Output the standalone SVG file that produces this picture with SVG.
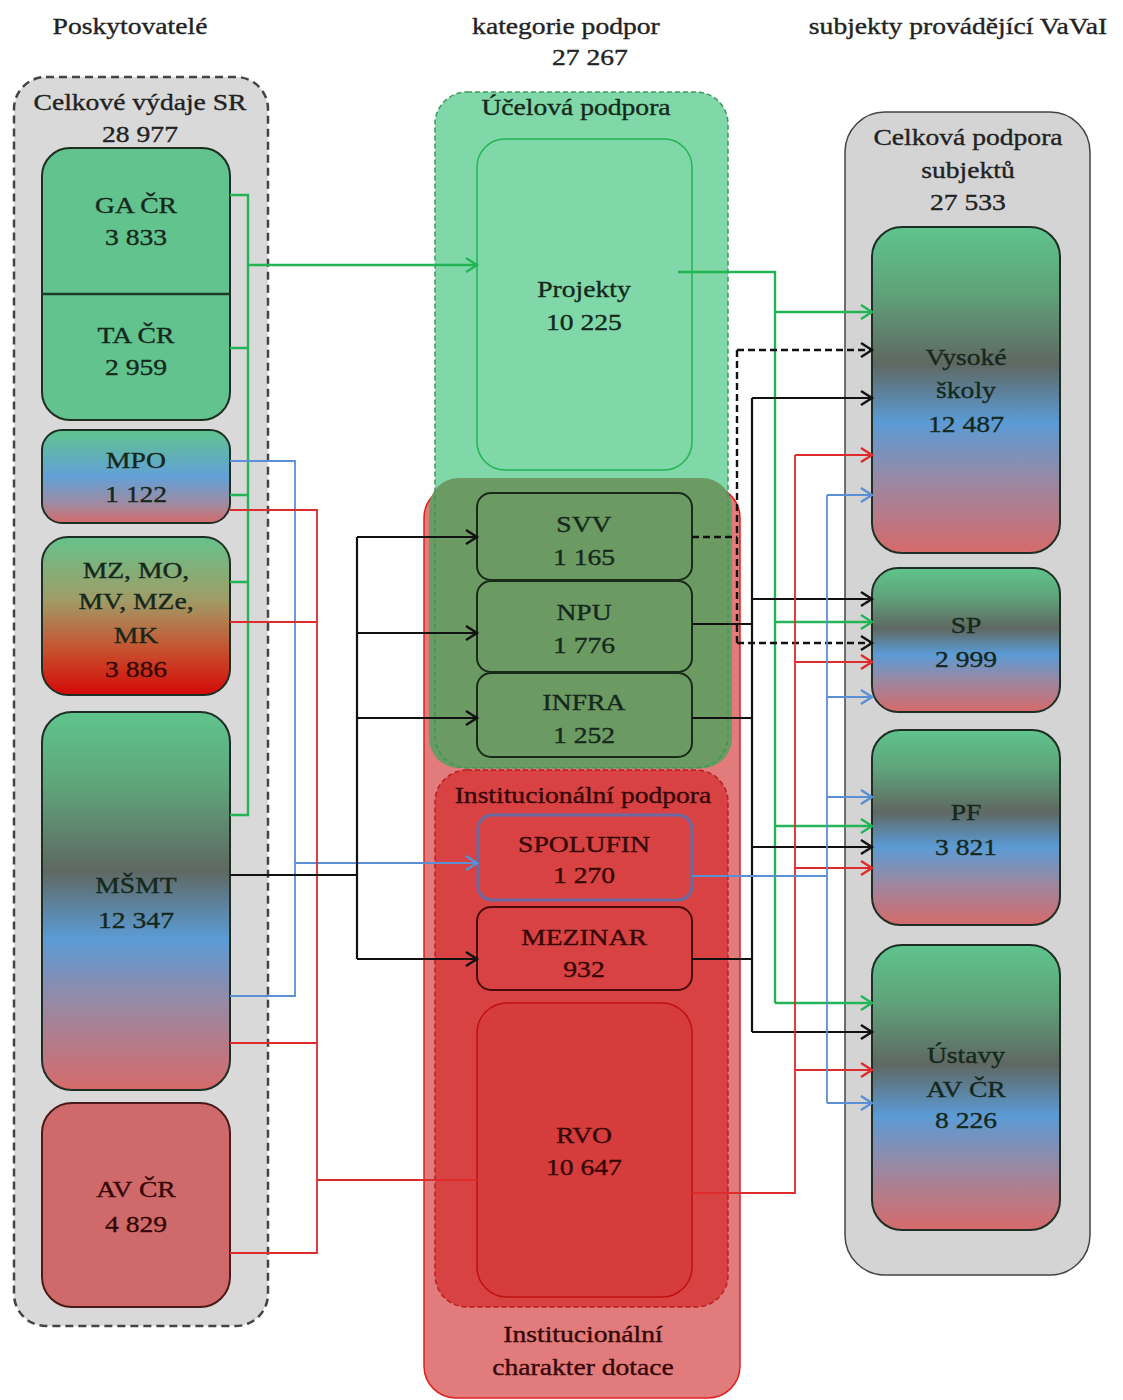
<svg xmlns="http://www.w3.org/2000/svg" width="1123" height="1400" viewBox="0 0 1123 1400">
<defs>
<style>
text{font-family:"Liberation Serif","Times New Roman",serif;font-size:23px;text-anchor:middle;transform-box:fill-box;transform-origin:center;transform:scaleX(1.2);stroke-width:0.35px}
.hd{fill:#222;stroke:#222}
.dk{fill:#15281c;stroke:#15281c}
.rd{fill:#350606;stroke:#350606}
.gr{fill:none;stroke:#22b455;stroke-width:2.4}
.bl{fill:none;stroke:#5b8fd4;stroke-width:1.8}
.re{fill:none;stroke:#de2b2b;stroke-width:1.8}
.bk{fill:none;stroke:#111;stroke-width:2.2}
.bkd{fill:none;stroke:#111;stroke-width:2.4;stroke-dasharray:7,4}
.box{stroke:#1e2e24;stroke-width:2}
</style>
<linearGradient id="gMulti" x1="0" y1="0" x2="0" y2="1">
<stop offset="0" stop-color="#5fc48d"/>
<stop offset="0.2" stop-color="#5fa37a"/>
<stop offset="0.42" stop-color="#5f6862"/>
<stop offset="0.6" stop-color="#5b9bd5"/>
<stop offset="0.78" stop-color="#9a88a2"/>
<stop offset="1" stop-color="#d66a6a"/>
</linearGradient>
<linearGradient id="gMPO" x1="0" y1="0" x2="0" y2="1">
<stop offset="0" stop-color="#5fc48d"/>
<stop offset="0.5" stop-color="#62a0d8"/>
<stop offset="0.8" stop-color="#a08aa0"/>
<stop offset="1" stop-color="#d66a6a"/>
</linearGradient>
<linearGradient id="gMZ" x1="0" y1="0" x2="0" y2="1">
<stop offset="0" stop-color="#66c28c"/>
<stop offset="0.4" stop-color="#a09c66"/>
<stop offset="0.72" stop-color="#c8502e"/>
<stop offset="1" stop-color="#d40808"/>
</linearGradient>
<marker id="aG" markerUnits="userSpaceOnUse" markerWidth="16" markerHeight="18" refX="13" refY="9" orient="auto"><path d="M2,2 L13,9 L2,16" fill="none" stroke="#22b455" stroke-width="2.4"/></marker>
<marker id="aK" markerUnits="userSpaceOnUse" markerWidth="16" markerHeight="18" refX="13" refY="9" orient="auto"><path d="M2,2 L13,9 L2,16" fill="none" stroke="#111" stroke-width="2.4"/></marker>
<marker id="aR" markerUnits="userSpaceOnUse" markerWidth="16" markerHeight="18" refX="13" refY="9" orient="auto"><path d="M2,2 L13,9 L2,16" fill="none" stroke="#de2b2b" stroke-width="2.4"/></marker>
<marker id="aB" markerUnits="userSpaceOnUse" markerWidth="16" markerHeight="18" refX="13" refY="9" orient="auto"><path d="M2,2 L13,9 L2,16" fill="none" stroke="#5b8fd4" stroke-width="2.4"/></marker>
</defs>
<rect width="1123" height="1400" fill="#fff"/>

<!-- headers -->
<text class="hd" x="130" y="34">Poskytovatelé</text>
<text class="hd" x="566" y="34">kategorie podpor</text>
<text class="hd" x="590" y="65">27 267</text>
<text class="hd" x="958" y="34">subjekty provádějící VaVaI</text>

<!-- left container -->
<g id="poskytovatele">
<rect x="14" y="77" width="254" height="1249" rx="32" fill="#d9d9d9" stroke="#444" stroke-width="2.5" stroke-dasharray="8,5"/>
<text class="hd" x="140" y="110">Celkové výdaje SR</text>
<text class="hd" x="140" y="142">28 977</text>
</g>
<g id="gacr-tacr">
<rect class="box" x="42" y="148" width="188" height="272" rx="28" fill="#62c38e"/>
<line x1="42" y1="294" x2="230" y2="294" stroke="#1e3a2a" stroke-width="2.5"/>
<text class="dk" x="136" y="213">GA ČR</text>
<text class="dk" x="136" y="245">3 833</text>
<text class="dk" x="136" y="343">TA ČR</text>
<text class="dk" x="136" y="375">2 959</text>
</g>
<g id="mpo">
<rect class="box" x="42" y="430" width="188" height="93" rx="20" fill="url(#gMPO)"/>
<text class="dk" x="136" y="468">MPO</text>
<text class="dk" x="136" y="502">1 122</text>
</g>
<g id="mz">
<rect class="box" x="42" y="537" width="188" height="158" rx="26" fill="url(#gMZ)"/>
<text class="dk" x="136" y="578">MZ, MO,</text>
<text class="dk" x="136" y="609">MV, MZe,</text>
<text class="dk" x="136" y="643">MK</text>
<text class="rd" x="136" y="677">3 886</text>
</g>
<g id="msmt">
<rect class="box" x="42" y="712" width="188" height="378" rx="30" fill="url(#gMulti)"/>
<text class="dk" x="136" y="893">MŠMT</text>
<text class="dk" x="136" y="928">12 347</text>
</g>
<g id="avcr">
<rect x="42" y="1103" width="188" height="204" rx="30" fill="#d06a6a" stroke="#4a1a1a" stroke-width="2"/>
<text class="rd" x="136" y="1197">AV ČR</text>
<text class="rd" x="136" y="1232">4 829</text>
</g>

<!-- center containers -->
<g id="instit-charakter">
<rect x="435" y="92" width="293" height="676" rx="32" fill="#80d7a7"/>
<rect x="424" y="486" width="316" height="912" rx="32" fill="#e27b7b" stroke="#e02020" stroke-width="1.5"/>
<text class="rd" x="583" y="1342">Institucionální</text>
<text class="rd" x="583" y="1375">charakter dotace</text>
</g>
<g id="ucelova">
<rect x="429" y="478" width="303" height="290" rx="30" fill="#6b9a63"/>
<rect x="435" y="92" width="293" height="676" rx="32" fill="none" stroke="#3a9a5a" stroke-width="1.5" stroke-dasharray="5,3"/>
<text class="dk" x="576" y="115">Účelová podpora</text>
</g>
<g id="projekty">
<rect x="477" y="139" width="215" height="331" rx="28" fill="#80d7a7" stroke="#22b455" stroke-width="1.5"/>
<text class="dk" x="584" y="297">Projekty</text>
<text class="dk" x="584" y="330">10 225</text>
</g>
<g id="instit-podpora">
<rect x="435" y="770" width="293" height="537" rx="32" fill="#d94242" stroke="#b82020" stroke-width="1.5" stroke-dasharray="5,3"/>
<text class="rd" x="583" y="803">Institucionální podpora</text>
</g>
<g id="svv">
<rect x="477" y="493" width="215" height="87" rx="14" fill="#6b9a63" stroke="#1a2a1a" stroke-width="2"/>
<text class="dk" x="584" y="532">SVV</text>
<text class="dk" x="584" y="565">1 165</text>
</g>
<g id="npu">
<rect x="477" y="581" width="215" height="91" rx="14" fill="#6b9a63" stroke="#1a2a1a" stroke-width="2"/>
<text class="dk" x="584" y="620">NPU</text>
<text class="dk" x="584" y="653">1 776</text>
</g>
<g id="infra">
<rect x="477" y="673" width="215" height="84" rx="14" fill="#6b9a63" stroke="#1a2a1a" stroke-width="2"/>
<text class="dk" x="584" y="710">INFRA</text>
<text class="dk" x="584" y="743">1 252</text>
</g>
<g id="spolufin">
<rect x="478" y="815" width="214" height="85" rx="14" fill="#d94242" stroke="#6a6aa0" stroke-width="3"/>
<text class="rd" x="584" y="852">SPOLUFIN</text>
<text class="rd" x="584" y="883">1 270</text>
</g>
<g id="mezinar">
<rect x="477" y="907" width="215" height="83" rx="14" fill="#d94242" stroke="#4a0a0a" stroke-width="2"/>
<text class="rd" x="584" y="945">MEZINAR</text>
<text class="rd" x="584" y="977">932</text>
</g>
<g id="rvo">
<rect x="477" y="1003" width="215" height="294" rx="30" fill="#d63c3c" stroke="#c01010" stroke-width="1.5"/>
<text class="rd" x="584" y="1143">RVO</text>
<text class="rd" x="584" y="1175">10 647</text>
</g>

<!-- right container -->
<g id="subjekty">
<rect x="845" y="112" width="245" height="1163" rx="40" fill="#d4d4d4" stroke="#444" stroke-width="1.5"/>
<text class="hd" x="968" y="145">Celková podpora</text>
<text class="hd" x="968" y="178">subjektů</text>
<text class="hd" x="968" y="210">27 533</text>
</g>
<g id="vs">
<rect class="box" x="872" y="227" width="188" height="326" rx="30" fill="url(#gMulti)"/>
<text class="dk" x="966" y="365">Vysoké</text>
<text class="dk" x="966" y="398">školy</text>
<text class="dk" x="966" y="432">12 487</text>
</g>
<g id="sp">
<rect class="box" x="872" y="568" width="188" height="144" rx="26" fill="url(#gMulti)"/>
<text class="dk" x="966" y="633">SP</text>
<text class="dk" x="966" y="667">2 999</text>
</g>
<g id="pf">
<rect class="box" x="872" y="730" width="188" height="195" rx="28" fill="url(#gMulti)"/>
<text class="dk" x="966" y="820">PF</text>
<text class="dk" x="966" y="855">3 821</text>
</g>
<g id="ustavy">
<rect class="box" x="872" y="945" width="188" height="285" rx="30" fill="url(#gMulti)"/>
<text class="dk" x="966" y="1063">Ústavy</text>
<text class="dk" x="966" y="1097">AV ČR</text>
<text class="dk" x="966" y="1128">8 226</text>
</g>

<!-- connectors -->
<g id="connectors">
<!-- left green -->
<path class="gr" d="M230,195 H248 V815 H230 M230,348 H248 M230,495 H248 M230,582 H248"/>
<path class="gr" d="M248,265 H477" stroke-width="2.8" marker-end="url(#aG)"/>
<!-- left blue -->
<path class="bl" d="M230,461 H295 V996 H230"/>
<path class="bl" d="M295,863 H477" marker-end="url(#aB)"/>
<!-- left red -->
<path class="re" d="M230,510 H317 V1253 H230 M230,622 H317 M230,1043 H317"/>
<path class="re" d="M317,1180 H477"/>
<!-- left black -->
<path class="bk" d="M230,875 H357" stroke-width="3.2"/>
<path class="bk" d="M357,537 V959"/>
<path class="bk" d="M357,537 H477" marker-end="url(#aK)"/>
<path class="bk" d="M357,633 H477" marker-end="url(#aK)"/>
<path class="bk" d="M357,718 H477" marker-end="url(#aK)"/>
<path class="bk" d="M357,959 H477" marker-end="url(#aK)"/>
<!-- right green -->
<path class="gr" d="M678,272 H775 V1003" stroke-width="2.8"/>
<path class="gr" d="M775,312 H872" marker-end="url(#aG)"/>
<path class="gr" d="M775,622 H872" marker-end="url(#aG)"/>
<path class="gr" d="M775,826 H872" marker-end="url(#aG)"/>
<path class="gr" d="M775,1003 H872" marker-end="url(#aG)"/>
<!-- right black dashed (SVV) -->
<path class="bkd" d="M692,537 H737 M737,350 V643"/>
<path class="bkd" d="M737,350 H872" marker-end="url(#aK)"/>
<path class="bkd" d="M737,643 H872" marker-end="url(#aK)"/>
<!-- right black solid -->
<path class="bk" d="M692,624 H752 M692,718 H752 M692,959 H752 M752,398 V1032"/>
<path class="bk" d="M752,398 H872" marker-end="url(#aK)"/>
<path class="bk" d="M752,599 H872" marker-end="url(#aK)"/>
<path class="bk" d="M752,847 H872" marker-end="url(#aK)"/>
<path class="bk" d="M752,1032 H872" marker-end="url(#aK)"/>
<!-- right red -->
<path class="re" d="M692,1193 H795 V455" stroke-width="2.2"/>
<path class="re" d="M795,455 H872" stroke-width="2.2" marker-end="url(#aR)"/>
<path class="re" d="M795,662 H872" stroke-width="2.2" marker-end="url(#aR)"/>
<path class="re" d="M795,868 H872" stroke-width="2.2" marker-end="url(#aR)"/>
<path class="re" d="M795,1070 H872" stroke-width="2.2" marker-end="url(#aR)"/>
<!-- right blue -->
<path class="bl" d="M692,876 H827 M827,495 V1103" stroke-width="2.2"/>
<path class="bl" d="M827,495 H872" stroke-width="2.2" marker-end="url(#aB)"/>
<path class="bl" d="M827,697 H872" stroke-width="2.2" marker-end="url(#aB)"/>
<path class="bl" d="M827,797 H872" stroke-width="2.2" marker-end="url(#aB)"/>
<path class="bl" d="M827,1103 H872" stroke-width="2.2" marker-end="url(#aB)"/>
</g>
</svg>
